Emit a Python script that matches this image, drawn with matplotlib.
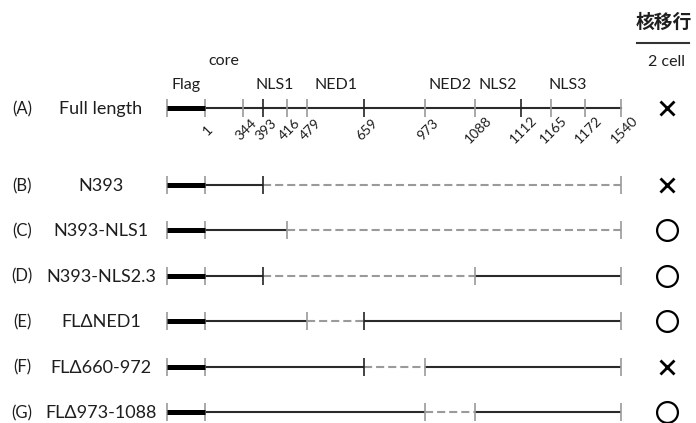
import numpy as np
import matplotlib
matplotlib.use("Agg")
import matplotlib.pyplot as plt

# ---------------- data ----------------
residues = [1, 344, 393, 416, 479, 659, 973, 1088, 1112, 1165, 1172, 1540]
emph_residues = [393, 659, 1112]          # drawn as dark ticks
domain_names = ["core", "NLS1", "NED1", "NED2", "NLS2", "NLS3"]
domain_start = [1, 393, 479, 973, 1088, 1165]
domain_end = [344, 416, 659, 1088, 1112, 1172]

row_letters = ["(A)", "(B)", "(C)", "(D)", "(E)", "(F)", "(G)"]
construct_names = ["Full length", "N393", "N393-NLS1", "N393-NLS2.3",
                   "FLΔNED1", "FLΔ660-972", "FLΔ973-1088"]
# retained (solid) / deleted (dashed) segments for constructs B..G
segments = [
    [(1, 393, "keep"), (393, 1540, "del")],
    [(1, 416, "keep"), (416, 1540, "del")],
    [(1, 393, "keep"), (393, 1088, "del"), (1088, 1540, "keep")],
    [(1, 479, "keep"), (479, 659, "del"), (659, 1540, "keep")],
    [(1, 659, "keep"), (659, 973, "del"), (973, 1540, "keep")],
    [(1, 973, "keep"), (973, 1088, "del"), (1088, 1540, "keep")],
]
nuclear_2cell = [False, False, True, True, True, False, True]
header_title = "核移行"
header_sub = "2 cell"

# ---------------- schematic scale (non-linear, as in the figure) ----------------
SCALE_RES = residues
SCALE_X = [205, 243, 263, 287, 307, 364, 425, 475, 521, 551, 585, 621]
FLAG_X0 = 167


def sx(r):
    return float(np.interp(r, SCALE_RES, SCALE_X))


FONT = ["Lato", "DejaVu Sans"]
GRAY = "#9a9a9a"
DARK = "#222222"
LINE = "#2a2a2a"
TXT = "#1e1e1e"

fig = plt.figure(figsize=(6.96, 4.23), dpi=100)
ax = fig.add_axes([0, 0, 1, 1])
ax.set_xlim(0, 696)
ax.set_ylim(423, 0)
ax.axis("off")

row_y = [108] + [185 + 45.4 * i for i in range(6)]
TICK_H = 9


def tick(x, y, r=None):
    c = DARK if (r in emph_residues) else GRAY
    ax.plot([x, x], [y - TICK_H, y + TICK_H], color=c, lw=1.2, solid_capstyle="butt", zorder=3)


def flag(y):
    ax.plot([FLAG_X0, sx(1)], [y, y], color="black", lw=3.6, solid_capstyle="butt", zorder=4)
    tick(FLAG_X0, y)


# ---- row A : full length ----
yA = row_y[0]
ax.plot([sx(1), sx(1540)], [yA, yA], color=LINE, lw=1.5, zorder=2)
flag(yA)
for r in residues:
    tick(sx(r), yA, r)
    ax.text(sx(r) + 3, yA + 22, str(r), rotation=45, ha="center", va="center",
            fontsize=10, family=FONT, color=TXT)

ax.text((FLAG_X0 + sx(1)) / 2, 85, "Flag", ha="center", va="center", fontsize=11.5,
        family=FONT, color=TXT)
for name, a, b in zip(domain_names, domain_start, domain_end):
    yy = 61 if name == "core" else 85
    ax.text((sx(a) + sx(b)) / 2, yy, name, ha="center", va="center", fontsize=11.5,
            family=FONT, color=TXT)

# ---- rows B..G ----
for i, segs in enumerate(segments):
    y = row_y[i + 1]
    flag(y)
    tick(sx(1), y, 1)
    for (a, b, kind) in segs:
        if kind == "keep":
            ax.plot([sx(a), sx(b)], [y, y], color=LINE, lw=1.5, zorder=2, solid_capstyle="butt")
        else:
            ax.plot([sx(a), sx(b)], [y, y], color=GRAY, lw=1.5, zorder=2,
                    linestyle=(0, (3.9, 1.9)))
        tick(sx(b), y, b)

# ---- labels ----
for y, letter, name in zip(row_y, row_letters, construct_names):
    ax.text(22, y + 1, letter, ha="center", va="center", fontsize=12, family=FONT, color=TXT)
    ax.text(101, y + 1, name, ha="center", va="center", fontsize=13, family=FONT, color=TXT)

# ---- results ----
RX = 667
for y, ok in zip(row_y, nuclear_2cell):
    if ok:
        ax.plot([RX], [y], marker="o", ms=15, mfc="none", mec="black", mew=1.6)
    else:
        ax.plot([RX], [y], marker="x", ms=10.5, mec="black", mew=2.0)

ax.text(664, 22, header_title, ha="center", va="center", fontsize=13.5, fontweight="bold",
        family=["Noto Sans CJK JP", "DejaVu Sans"], color=TXT)
ax.plot([637, 689], [43, 43], color="#333333", lw=1.5)
ax.text(667, 62, header_sub, ha="center", va="center", fontsize=11.5, family=FONT, color=TXT)

fig.savefig("out.png", dpi=100)
